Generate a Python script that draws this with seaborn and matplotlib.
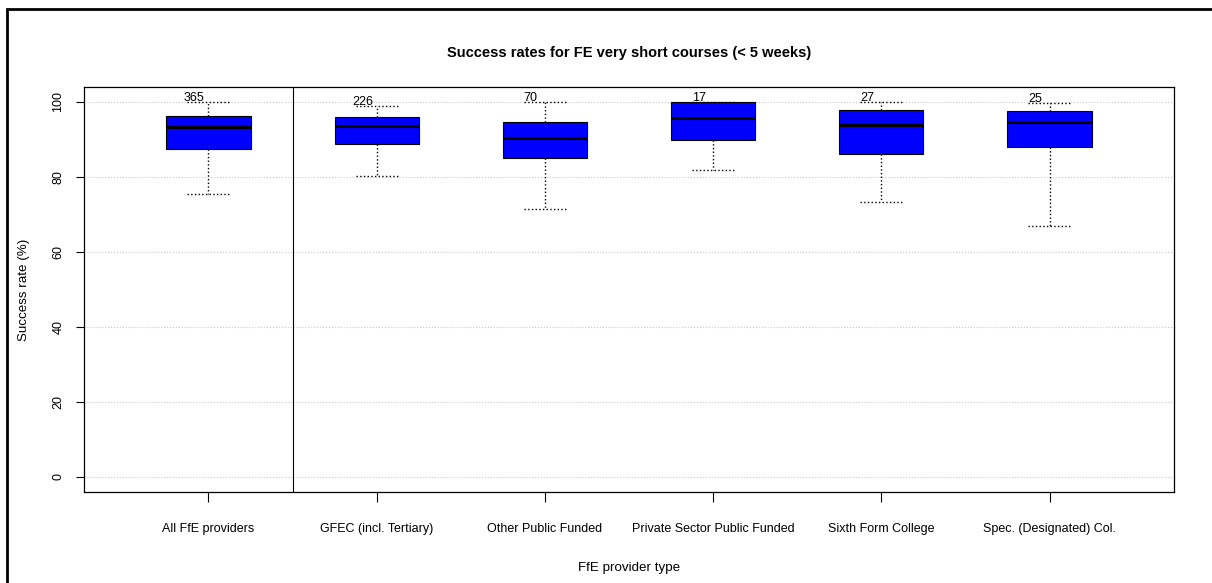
### success rates for FE very short courses
#   boxplot by FfE provider type, redrawn in seaborn

# import statements
from matplotlib.patches import Rectangle
import matplotlib
matplotlib.use('Agg')
import matplotlib.pyplot as plt
import numpy as np
import pandas as pd
import seaborn as sns

# provider types shown on the x axis
providers = ['All FfE providers', 'GFEC (incl. Tertiary)',
             'Other Public Funded', 'Private Sector Public Funded',
             'Sixth Form College', 'Spec. (Designated) Col.']

# five number summaries (success rate, %)
whisker_low  = [75.4, 80.3, 71.5, 81.8, 73.3, 66.8]
quartile_1   = [87.4, 88.7, 84.9, 89.8, 86.0, 87.8]
median       = [93.2, 93.5, 90.3, 95.6, 93.8, 94.5]
quartile_3   = [96.3, 95.9, 94.6, 100.0, 97.9, 97.6]
whisker_high = [100.0, 98.8, 100.0, 100.0, 100.0, 99.7]

# number of providers in each group
counts = [365, 226, 70, 17, 27, 25]

# build a long table: five values per group give exact quartiles
rows = []
for i, name in enumerate(providers):
    for v in (whisker_low[i], quartile_1[i], median[i], quartile_3[i],
              whisker_high[i]):
        rows.append((name, v))
df = pd.DataFrame(rows, columns = ['provider', 'rate'])

# style
sns.set_style('white')
plt.rcParams['font.family'] = ['Liberation Sans', 'DejaVu Sans']
plt.rcParams['text.color'] = 'black'
plt.rcParams['axes.labelcolor'] = 'black'
plt.rcParams['xtick.color'] = 'black'
plt.rcParams['ytick.color'] = 'black'

fig = plt.figure(figsize = (12.12, 5.83), dpi = 100)
ax = fig.add_axes([84 / 1212, 1 - 492 / 583, 1090 / 1212, 405.3 / 583])

# horizontal dotted grid behind the boxes
ax.set_axisbelow(True)
ax.yaxis.grid(True, linestyle = ':', color = '#c8c8c8', linewidth = 0.8)
ax.xaxis.grid(False)

sns.boxplot(data = df, x = 'provider', y = 'rate', order = providers,
            color = '#0000ff', saturation = 1, width = 0.5, whis = np.inf,
            linecolor = 'black', linewidth = 0.8, ax = ax,
            boxprops = dict(edgecolor = 'black', linewidth = 0.8),
            medianprops = dict(color = 'black', linewidth = 2.2),
            whiskerprops = dict(color = 'black', linestyle = ':',
                                linewidth = 1.0),
            capprops = dict(color = 'black', linestyle = ':',
                            linewidth = 1.0))

# counts above each upper whisker
for i, n in enumerate(counts):
    ax.text(i - 0.085, whisker_high[i] - 0.6, str(n), ha = 'center',
            va = 'bottom', fontsize = 9)

# line separating the overall group from the provider types
ax.axvline(0.5, color = 'black', linewidth = 0.8)

# axes limits follow R's default 4% padding
ax.set_xlim(-0.74, 5.74)
ax.set_ylim(-4, 104)
ax.set_yticks([0, 20, 40, 60, 80, 100])

for side in ['left', 'right', 'top', 'bottom']:
    ax.spines[side].set_visible(True)
    ax.spines[side].set_color('black')
    ax.spines[side].set_linewidth(0.9)

ax.tick_params(axis = 'y', length = 6, width = 0.8, pad = 8, labelsize = 9,
               labelrotation = 90, left = True, direction = 'out')
ax.tick_params(axis = 'x', length = 7, width = 0.8, pad = 15, labelsize = 9,
               bottom = True, direction = 'out')
for lab in ax.get_yticklabels():
    lab.set_verticalalignment('center')

ax.set_xlabel('FfE provider type', fontsize = 9.6, labelpad = 20)
ax.set_ylabel('Success rate (%)', fontsize = 9.6, labelpad = 16)
ax.set_title('Success rates for FE very short courses (< 5 weeks)',
             fontsize = 10.5, fontweight = 'bold', pad = 21.5)

# outer frame of the original image (only top and left edges show)
fig.add_artist(Rectangle((6.5 / 1212, -0.2), 1.5, 1 - 8.5 / 583 + 0.2,
                         transform = fig.transFigure, fill = False,
                         edgecolor = 'black', linewidth = 2))

fig.savefig('out.png', dpi = 100)
